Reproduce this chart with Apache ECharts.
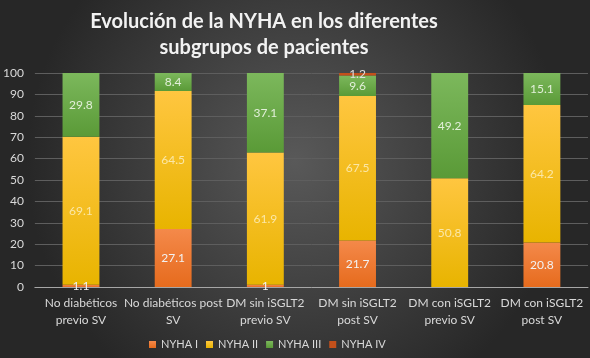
<!DOCTYPE html>
<html>
<head>
<meta charset="utf-8">
<script src="https://cdn.jsdelivr.net/npm/echarts@6/dist/echarts.min.js"></script>
<style>
  html, body { margin: 0; padding: 0; background: #333; }
  #chart { width: 590px; height: 358px; }
</style>
</head>
<body>
<div id="chart"></div>
<script>
// categorías (eje x)
const categories = [
  'No diabéticos\nprevio SV',
  'No diabéticos post\nSV',
  'DM sin iSGLT2\nprevio SV',
  'DM sin iSGLT2\npost SV',
  'DM con iSGLT2\nprevio SV',
  'DM con iSGLT2\npost SV'
];
// porcentajes por clase NYHA
const nyha1 = [1.1, 27.1, 1, 21.7, null, 20.8];
const nyha2 = [69.1, 64.5, 61.9, 67.5, 50.8, 64.2];
const nyha3 = [29.8, 8.4, 37.1, 9.6, 49.2, 15.1];
const nyha4 = [null, null, null, 1.2, null, null];
const yTicks = [0, 10, 20, 30, 40, 50, 60, 70, 80, 90, 100];

const FONT = 'Lato, "Open Sans", sans-serif';

function grad(top, bottom) {
  return new echarts.graphic.LinearGradient(0, 0, 0, 1, [
    { offset: 0, color: top },
    { offset: 1, color: bottom }
  ]);
}

function serie(name, data, color, labelColor) {
  return {
    name: name,
    type: 'bar',
    stack: 'total',
    barWidth: '40%',
    data: data,
    itemStyle: { color: color },
    label: {
      show: true,
      position: 'inside',
      color: labelColor,
      fontFamily: FONT,
      fontSize: 12,
      formatter: p => (p.value == null ? '' : String(p.value))
    }
  };
}

const chart = echarts.init(document.getElementById('chart'));
chart.setOption({
  backgroundColor: new echarts.graphic.RadialGradient(0.5, 0.45, 0.75, [
    { offset: 0, color: '#595959' },
    { offset: 1, color: '#272727' }
  ]),
  title: {
    text: 'Evolución de la NYHA en los diferentes\nsubgrupos de pacientes',
    left: 259,
    top: 4,
    textAlign: 'center',
    textStyle: {
      color: '#f2f2f2',
      fontFamily: FONT,
      fontWeight: 'bold',
      fontSize: 20,
      lineHeight: 26
    }
  },
  legend: {
    left: 144,
    bottom: 3,
    itemWidth: 7,
    itemHeight: 7,
    itemGap: 8,
    icon: 'rect',
    textStyle: { color: '#d9d9d9', fontFamily: FONT, fontSize: 11 },
    data: ['NYHA I', 'NYHA II', 'NYHA III', 'NYHA IV']
  },
  grid: { left: 33, right: 2, top: 73, bottom: 71, containLabel: false },
  xAxis: {
    type: 'category',
    data: categories,
    axisTick: { show: false },
    axisLine: { lineStyle: { color: '#a6a6a6', width: 1 } },
    axisLabel: {
      color: '#d9d9d9',
      fontFamily: FONT,
      fontSize: 12,
      lineHeight: 17,
      interval: 0,
      margin: 8
    }
  },
  yAxis: {
    type: 'value',
    min: yTicks[0],
    max: yTicks[yTicks.length - 1],
    interval: 10,
    axisLabel: {
      color: '#d9d9d9',
      fontFamily: FONT,
      fontSize: 12,
      margin: 11
    },
    splitLine: { lineStyle: { color: '#5e5e5e', width: 1 } }
  },
  series: [
    serie('NYHA I', nyha1, grad('#f4894a', '#e66b1d'), '#f2f2f2'),
    serie('NYHA II', nyha2, grad('#ffc640', '#e8b400'), '#fbe7a6'),
    serie('NYHA III', nyha3, grad('#7cb85c', '#5a9a37'), '#e2efd9'),
    serie('NYHA IV', nyha4, '#c3501b', '#e0e0e0')
  ]
});
</script>
</body>
</html>
